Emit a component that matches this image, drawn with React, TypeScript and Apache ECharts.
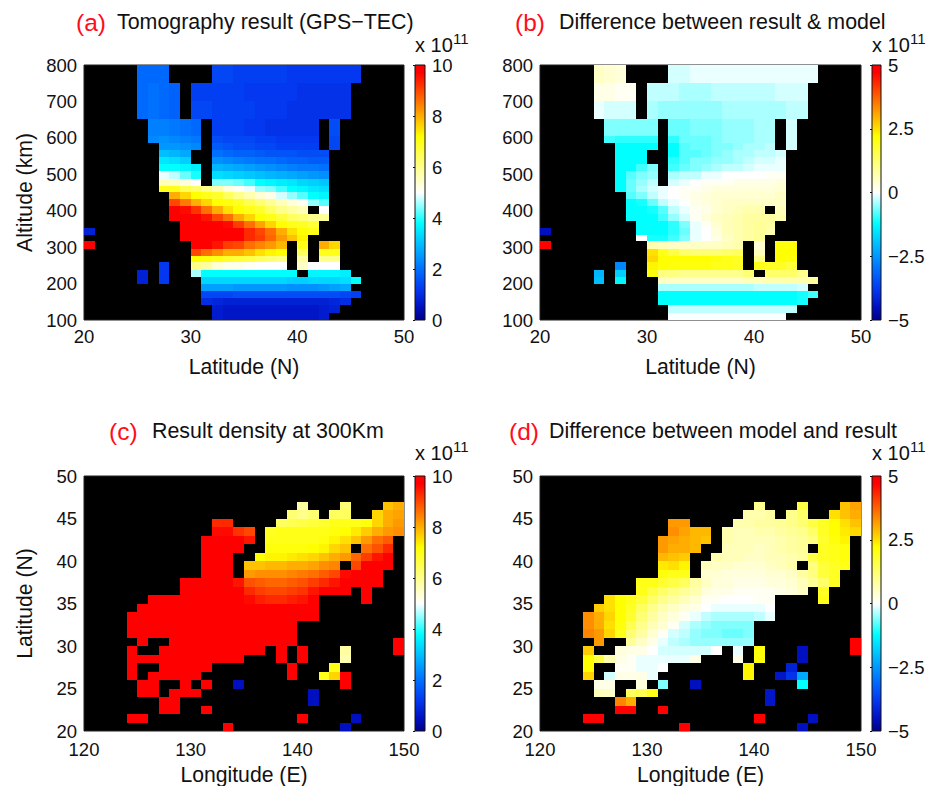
import React, { useEffect, useRef } from "react";
import * as echarts from "echarts";

type Row = number[][];

// Edges of altitude rows in km (top row first); the grid is coarser at high altitude
const altEdges = [800, 750, 702, 653, 605, 587, 567, 547, 527, 509, 488, 469, 451, 431, 412, 392, 373, 353, 334, 316, 296, 276, 258, 238, 219, 199, 180, 161, 140, 120, 100];

// Each row: segments of [first column, value, value, ...], column 0 = first degree of the x axis
const tomography: Row[] = [
  [[5, 1.9, 1.9, 1.9], [12, 1.4, 1.4, 1.3, 1.3, 1.3, 1.3, 1.3, 1.2, 1.2, 1.2, 1.2, 1.2, 1.2, 1.2]],
  [[5, 1.9, 2, 1.9, 1.8], [10, 1.3, 1.3, 1.3, 1.3, 1.3, 1.2, 1.2, 1.2, 1.2, 1.2, 1.1, 1.1, 1.1, 1.1, 1.1]],
  [[5, 1.9, 2, 1.9, 1.8], [10, 1.4, 1.4, 1.3, 1.3, 1.3, 1.3, 1.2, 1.2, 1.2, 1.1, 1.1, 1.1, 1.1, 1.1, 1.1]],
  [[6, 2.2, 2.2, 2.1, 2, 1.9], [12, 1.3, 1.3, 1.3, 1.2, 1.2, 1.1, 1.1, 1.1, 1.1, 1.1], [23, 1.5]],
  [[6, 2.3, 2.4, 2.3, 2.2, 2.1], [12, 1.5, 1.4, 1.4, 1.4, 1.3, 1.3, 1.2, 1.2, 1.2, 1.2], [23, 1.4]],
  [[7, 2.5, 2.5, 2.4, 2.3], [12, 1.7, 1.6, 1.5, 1.5, 1.4, 1.4, 1.3, 1.3, 1.3, 1.3], [23, 1.4]],
  [[7, 3, 2.9, 2.7], [12, 2, 1.9, 1.8, 1.8, 1.7, 1.6, 1.6, 1.6, 1.5, 1.5, 1.5]],
  [[7, 3.5, 3.4, 3.2], [12, 2.4, 2.3, 2.2, 2.1, 2, 2, 1.9, 1.8, 1.8, 1.7, 1.7]],
  [[7, 3.8, 3.8, 3.7, 3.6], [12, 2.9, 2.8, 2.7, 2.6, 2.5, 2.4, 2.3, 2.2, 2.1, 2.1, 2]],
  [[7, 4.9, 4.7, 4.3, 3.9], [12, 3.4, 3.3, 3.2, 3.1, 3, 2.9, 2.8, 2.7, 2.6, 2.5, 2.4]],
  [[7, 5.6, 5.5, 5.3, 5], [12, 4.4, 4.4, 4.3, 4.1, 3.8, 3.7, 3.6, 3.5, 3.3, 3.2, 3.1]],
  [[7, 7, 7, 6.5, 6.3, 6, 5.7, 5.3, 5.1, 4.9, 4.5, 4.4, 4.1, 3.8, 3.7, 3.5, 3.4]],
  [[8, 8, 7.6, 7.2, 7, 6.8, 6.4, 6, 5.7, 5.4, 5.2, 4.8, 4.5, 4.2, 3.8, 3.7]],
  [[8, 9, 8.5, 8, 7.6, 7.2, 7.1, 6.9, 6.5, 6.2, 5.9, 5.6, 5.3, 5.1, 4.5, 4.2]],
  [[8, 10, 9.6, 9.2, 8.6, 8, 7.5, 7.2, 7, 6.8, 6.4, 6, 5.8, 5.6], [22, 5]],
  [[8, 10, 10, 9.9, 9.5, 9, 8.6, 8, 7.6, 7.2, 7, 6.7, 6.4, 6.2, 6, 5.9]],
  [[9, 10, 10, 10, 9.8, 9.6, 9.1, 8.6, 8.1, 7.6, 7.2, 7, 6.9, 6.7]],
  [[0, 0.8], [9, 10, 10, 10, 10, 10, 10, 9.3, 9, 8.6, 8, 7.5, 7.2, 7]],
  [[9, 10, 10, 10, 10, 10, 10, 9.3, 9.1, 8.7, 8.2, 7.8, 7.3]],
  [[0, 10], [10, 10, 10, 9.5, 9.1, 9, 8.6, 8.4, 8.2, 7.9], [20, 7], [22, 8, 7.6]],
  [[10, 9, 8.6, 8.3, 8, 8, 7.8, 7.5, 7.3, 7.2], [20, 6.4], [22, 7, 7]],
  [[10, 7.2, 7.1, 7, 6.8, 6.7, 6.6, 6.4, 6.2, 6.1], [20, 5.8], [22, 6, 6]],
  [[7, 1.2], [10, 6, 5.8, 5.4, 5.2, 5.2, 5.1, 5, 5, 5], [20, 5.5], [21, 5, 5, 5]],
  [[5, 0.8], [7, 1.2], [10, 4.6, 3.8, 3.8, 3.8, 3.8, 3.8, 3.8, 3.8, 3.8, 3.8], [21, 3.7, 3.7, 3.7, 3.6]],
  [[5, 0.8], [7, 1.2], [11, 3.3, 3.3, 3.3, 3.3, 3.3, 3.3, 3.3, 3.3, 3.2, 3.2, 3.3, 3.3, 3.3, 3.4, 3.8]],
  [[11, 2.6, 2.6, 2.6, 2.5, 2.5, 2.5, 2.5, 2.5, 2.4, 2.4, 2.4, 2.5, 2.6, 2.7]],
  [[11, 1.4, 1.4, 1.4, 1.5, 1.5, 1.5, 1.5, 1.5, 1.5, 1.5, 1.5, 1.5, 1.5, 1.4, 1.3]],
  [[11, 1, 0.9, 0.8, 0.8, 0.8, 0.8, 0.8, 0.8, 0.8, 0.8, 0.8, 0.8, 0.9, 1]],
  [[12, 0.7, 0.6, 0.6, 0.6, 0.6, 0.6, 0.6, 0.6, 0.6, 0.6, 0.7, 0.8]],
  [[12, 0.7, 0.6, 0.6, 0.6, 0.6, 0.6, 0.6, 0.6, 0.6, 0.6, 0.7]],
];

const altDifference: Row[] = [
  [[5, 0.5, 0.4, 0.3], [12, -0.2, -0.2, -0.1, -0.1, -0.1, -0.1, -0.1, -0.1, -0.1, -0.1, -0.1, -0.1, -0.1, -0.1]],
  [[5, 0.2, 0.2, 0.1, 0.1], [10, -0.3, -0.3, -0.3, -0.4, -0.4, -0.4, -0.3, -0.3, -0.3, -0.3, -0.3, -0.3, -0.2, -0.2, -0.2]],
  [[5, -0.1, -0.2, -0.2, -0.2], [10, -0.4, -0.5, -0.5, -0.5, -0.5, -0.5, -0.5, -0.4, -0.4, -0.4, -0.4, -0.4, -0.4, -0.3, -0.3]],
  [[6, -0.6, -0.6, -0.6, -0.6, -0.6], [12, -0.7, -0.7, -0.6, -0.6, -0.6, -0.5, -0.5, -0.5, -0.4, -0.4], [23, -0.2]],
  [[6, -0.9, -1, -1, -1, -1], [12, -1, -0.7, -0.7, -0.7, -0.6, -0.5, -0.5, -0.5, -0.4, -0.4], [23, -0.2]],
  [[7, -1.2, -1.2, -1.2, -1.2], [12, -1.2, -0.8, -0.7, -0.7, -0.6, -0.6, -0.5, -0.4, -0.4, -0.3], [23, -0.2]],
  [[7, -1.2, -1.2, -1.2], [12, -1.2, -0.8, -0.8, -0.7, -0.6, -0.5, -0.4, -0.4, -0.3, -0.3, -0.2]],
  [[7, -1.2, -1.2, -1.2], [12, -1, -0.8, -0.6, -0.6, -0.5, -0.5, -0.4, -0.3, -0.2, -0.2, -0.1]],
  [[7, -1.2, -1.2, -0.9, -0.6], [12, -0.9, -0.7, -0.6, -0.5, -0.4, -0.3, -0.3, -0.2, -0.1, -0.1, -0.1]],
  [[7, -1.2, -0.8, -0.6, -0.5], [12, -0.4, -0.3, -0.3, -0.1, -0.1, 0, 0, 0, 0, 0.1, 0.1]],
  [[7, -1.2, -0.7, -0.5, -0.3], [12, -0.2, -0.1, 0, 0.1, 0.1, 0.1, 0.2, 0.2, 0.2, 0.2, 0.3]],
  [[7, -1.2, -0.7, -0.4, -0.2, -0.1, 0, 0.1, 0.1, 0.2, 0.3, 0.3, 0.3, 0.3, 0.3, 0.3, 0.4]],
  [[8, -0.8, -0.6, -0.3, -0.1, 0, 0.1, 0.2, 0.3, 0.4, 0.4, 0.4, 0.4, 0.4, 0.4, 0.5]],
  [[8, -1.2, -1.1, -0.7, -0.3, -0.1, 0, 0.2, 0.3, 0.4, 0.5, 0.5, 0.5, 0.5, 0.5, 0.5]],
  [[8, -1.2, -1.2, -1.1, -0.8, -0.3, -0.1, 0.1, 0.2, 0.4, 0.5, 0.6, 0.7, 0.7], [22, 0.6]],
  [[8, -1.2, -1.2, -1.2, -0.9, -0.5, -0.2, 0.1, 0.3, 0.5, 0.6, 0.7, 0.8, 0.8, 0.8, 0.7]],
  [[9, -1.2, -1.2, -1.2, -1, -0.6, -0.1, 0.1, 0.4, 0.6, 0.7, 0.8, 0.9, 0.8]],
  [[0, -4.5], [9, -1.2, -1.2, -1.2, -1, -0.7, -0.1, 0, 0.3, 0.6, 0.7, 0.8, 0.9, 0.7]],
  [[9, 0, -1.1, -1.1, -0.9, -0.6, -0.1, 0, 0.2, 0.5, 0.7, 0.8, 0.9]],
  [[0, 5], [10, 0.7, 0.6, 0.5, 0.5, 0.5, 0.5, 0.5, 0.6, 0.7], [20, 0.4], [22, 2.1, 2.1]],
  [[10, 2.5, 2, 1.6, 1.3, 1.2, 1.2, 1.2, 1.3, 1.4], [20, 0.6], [22, 2.2, 2.2]],
  [[10, 2.6, 2.2, 2.2, 2.2, 2.2, 2.2, 2.1, 2, 1.9], [20, 1], [22, 2.2, 2.1]],
  [[7, -2.7], [10, 2.3, 2.2, 2.1, 2.1, 2.1, 2.1, 2, 2, 1.9], [20, 2], [21, 1.9, 1.9, 1.7]],
  [[5, -2.1], [7, -1.8], [10, 2.1, 1.1, 1.1, 1, 1, 1, 1, 1, 1, 1.2], [21, 1.3, 1.3, 1.3, 1]],
  [[5, -2], [7, -1.3], [11, 0.5, 0.5, 0.5, 0.5, 0.5, 0.5, 0.5, 0.5, 0.6, 0.6, 0.7, 0.7, 0.7, 0.7, 0.8]],
  [[11, -0.4, -0.4, -0.4, -0.4, -0.4, -0.4, -0.4, -0.4, -0.4, -0.3, -0.3, -0.3, -0.3, -0.2]],
  [[11, -1.2, -1.2, -1.2, -1.2, -1.2, -1.2, -1.2, -1.2, -1.2, -1.2, -1.2, -1.2, -1.2, -1.1, -0.9]],
  [[11, -1.2, -1.2, -1.2, -1.2, -1.2, -1.2, -1.2, -1.2, -1.2, -1.2, -1.2, -1.2, -1.2, -1.1]],
  [[12, -0.3, -0.3, -0.3, -0.3, -0.3, -0.3, -0.3, -0.3, -0.3, -0.3, -0.3, -0.3]],
  [[12, -0.03, -0.03, -0.03, -0.03, -0.03, -0.03, -0.03, -0.03, -0.03, -0.03, -0.03]],
];

// Maps: 30 rows of one degree latitude, row 0 = 49-50 N; column 0 = 120-121 E
const density: Row[] = [
  [],
  [],
  [],
  [[20, 5.8], [24, 6.2], [28, 7.8, 8]],
  [[19, 6.2, 6, 6.2], [23, 6.4, 6.4], [27, 7.6, 8, 8.1]],
  [[12, 9.3, 9.3], [18, 6.4, 6.5, 6.6, 6.7, 6.8, 7, 7, 7, 7.1, 7.6, 8, 8.2]],
  [[12, 9.6, 9.6, 9.2, 9], [17, 6.9, 7, 7, 7, 7, 7, 7.1, 7.2, 7.4, 7.7, 8, 8.2, 8.3]],
  [[11, 10, 10, 10, 9.8, 9.5], [17, 7, 7, 7, 7, 7, 7.1, 7.3, 7.5, 7.8, 8.2, 8.6, 8.8]],
  [[11, 10, 10, 10, 10], [17, 7.1, 7.1, 7.1, 7.1, 7.2, 7.3, 7.6, 7.8], [26, 8.6, 8.9, 9.3]],
  [[11, 10, 10, 10], [16, 7.2, 7.3, 7.3, 7.4, 7.5, 7.6, 7.8, 8, 8.2, 8.7, 9.1, 9.5, 9.8]],
  [[11, 10, 10, 10], [15, 7.8, 7.8, 7.9, 7.9, 8, 8, 8.1, 8.3, 8.4], [25, 9, 9.7, 10, 10]],
  [[11, 10, 10, 10], [15, 8.2, 8.3, 8.3, 8.3, 8.4, 8.5, 8.6, 8.8, 9, 9.6, 10, 10, 10]],
  [[9, 10, 10, 10, 10, 10, 9.5, 8.9, 8.8, 8.7, 8.7, 8.8, 8.9, 9.1, 9.3, 9.5, 10, 10, 10, 10]],
  [[9, 10, 10, 10, 10, 10, 9.7, 9.3, 9.1, 9, 9, 9.1, 9.2, 9.5, 10, 10, 10], [26, 10]],
  [[6, 10, 10, 10, 10, 10, 10, 10, 10, 9.9, 9.6, 9.4, 9.3, 9.3, 9.4, 9.5, 9.8], [26, 10]],
  [[5, 10, 10, 10, 10, 10, 10, 10, 10, 10, 10, 9.9, 9.8, 9.8, 9.8, 9.8, 9.8, 9.9]],
  [[4, 10, 10, 10, 10, 10, 10, 10, 10, 10, 10, 10, 10, 10, 10, 10, 10, 10, 10]],
  [[4, 10, 10, 10, 10, 10, 10, 10, 10, 10, 10, 10, 10, 10, 10, 10, 10]],
  [[4, 10, 10, 10, 10, 10, 10, 10, 10, 10, 10, 10, 10, 10, 10, 10, 10]],
  [[5, 10], [8, 10, 10, 10, 10, 10, 10, 10, 10, 10, 10, 10, 10], [29, 10]],
  [[4, 10], [7, 10, 10, 10, 10, 10, 10, 10, 10, 10, 10], [18, 10], [20, 10], [24, 5.8], [29, 10]],
  [[4, 10, 10, 10, 10, 10, 10, 10, 10, 10, 10, 10], [18, 10], [20, 10], [24, 5.7]],
  [[4, 10], [7, 10, 10, 10, 10, 10], [19, 10], [23, 7]],
  [[4, 10], [6, 10, 10, 10, 10, 10], [19, 10], [22, 7, 7.6], [24, 10]],
  [[5, 10, 10], [9, 10], [11, 10], [14, 0.5], [24, 10]],
  [[5, 10, 10], [8, 10, 10, 10], [21, 0.5]],
  [[7, 10, 10], [21, 0.5]],
  [[7, 10, 10], [11, 10]],
  [[4, 10, 10], [20, 10], [25, 0.5]],
  [[13, 10], [24, 0.5]],
];

const mapDifference: Row[] = [
  [],
  [],
  [],
  [[20, 1], [24, 1.6], [28, 2.8, 3.1]],
  [[19, 0.7, 0.7, 0.8], [23, 1, 1.3], [27, 2.5, 2.8, 3]],
  [[12, 3.2, 3.2], [18, 0.7, 0.7, 0.8, 0.8, 0.9, 1, 1.2, 1.6, 1.9, 2.2, 2.5, 2.8]],
  [[12, 3.3, 3.1, 2.9, 2.9], [17, 0.7, 0.6, 0.6, 0.7, 0.7, 0.8, 0.9, 1, 1.3, 1.9, 2.2, 2.4, 2.6]],
  [[11, 3.2, 3.1, 3, 2.9, 2.8], [17, 0.7, 0.6, 0.6, 0.6, 0.6, 0.7, 0.8, 0.9, 1.1, 1.8, 2.1, 2.3]],
  [[11, 3.2, 3, 3, 2.9], [17, 0.6, 0.6, 0.6, 0.5, 0.6, 0.7, 0.8, 0.9], [26, 1.9, 2, 2.1]],
  [[11, 2.9, 2.8, 2.7], [16, 0.7, 0.6, 0.6, 0.5, 0.5, 0.6, 0.6, 0.7, 0.8, 1.6, 1.9, 2, 2.1]],
  [[11, 2.4, 2.5, 2.3], [15, 0.6, 0.5, 0.5, 0.4, 0.4, 0.4, 0.5, 0.6, 0.7], [25, 1.1, 1.7, 1.9, 2]],
  [[11, 2.1, 2, 2], [15, 0.4, 0.4, 0.3, 0.3, 0.3, 0.3, 0.4, 0.4, 0.5, 0.8, 1.1, 1.7, 1.9]],
  [[9, 2, 2, 1.8, 1.6, 1.4, 0.8, 0.5, 0.3, 0.3, 0.2, 0.2, 0.2, 0.3, 0.3, 0.4, 0.6, 0.9, 1.3, 1.9]],
  [[9, 2, 1.6, 1.3, 1.1, 0.9, 0.7, 0.3, 0.2, 0.2, 0.1, 0.1, 0.1, 0.1, 0.2, 0.3, 0.5], [26, 1.9]],
  [[6, 2.5, 2.2, 2, 1.7, 1.3, 1, 0.8, 0.6, 0.4, 0.1, 0.1, 0, 0, 0, 0.1, 0.1], [26, 2]],
  [[5, 2.7, 2.5, 2.2, 1.9, 1.4, 1, 0.7, 0.5, 0.3, 0.2, 0, -0.1, -0.1, -0.1, -0.1, -0.1, 0]],
  [[4, 3.3, 3, 2.6, 2.2, 1.8, 1.2, 0.8, 0.5, 0.3, 0.1, -0.1, -0.3, -0.4, -0.4, -0.4, -0.4, -0.3, -0.1]],
  [[4, 3.3, 3, 2.5, 2.1, 1.5, 1, 0.6, 0.4, 0.1, -0.2, -0.4, -0.5, -0.6, -0.6, -0.6, -0.6]],
  [[4, 3.4, 3.2, 2.6, 2, 1.2, 0.8, 0.4, 0.1, -0.2, -0.3, -0.5, -0.6, -0.6, -0.7, -0.7, -0.6]],
  [[5, 3.2], [8, 0.9, 0.5, 0.2, -0.1, -0.3, -0.4, -0.5, -0.5, -0.5, -0.5, -0.5, -0.5], [29, 5]],
  [[4, 2.7], [7, 0.3, 0.2, 0.2, 0, -0.2, -0.2, -0.2, -0.2, -0.2, 0], [18, -0.1], [20, 2.1], [24, -4.5], [29, 5]],
  [[4, 2.2, 1.6, 0.7, 0.2, 0.1, -0.1, -0.1, -0.1, -0.1, -0.1, 0.2], [18, 0.2], [20, 2.1], [24, -4.5]],
  [[4, 2.2], [7, 0.1, 0.1, -0.1, -0.1, 0], [19, 2.3], [23, -4.2]],
  [[4, 2.6], [6, -0.2, 0.2, 0.2, 0.2, -0.1], [19, 2.3], [22, -4.4, -3.9, -2.3]],
  [[5, 0.2, 0.2], [9, 0.3], [11, -0.6], [14, -4.5], [24, -1.2]],
  [[5, 0.6, 0.5], [8, 1.4, 1.5, 2], [21, -4.4]],
  [[7, 3.4, 3], [21, -4.4]],
  [[7, 5, 5], [11, 5]],
  [[4, 5, 5], [20, 5], [25, -4.5]],
  [[13, 5], [24, -4.5]],
];

const colorStops = [
  { offset: 0, color: "#00008a" },
  { offset: 0.05, color: "#0010c0" },
  { offset: 0.12, color: "#0338f0" },
  { offset: 0.2, color: "#0070ff" },
  { offset: 0.38, color: "#00ffff" },
  { offset: 0.5, color: "#ffffff" },
  { offset: 0.72, color: "#ffff00" },
  { offset: 0.97, color: "#ff0000" },
  { offset: 1, color: "#ff0000" },
];

const FONT = "Liberation Sans";
const TICK_SIZE = 18.5;
const NAME_SIZE = 21.2;

function colorOf(t: number): string {
  const c = Math.max(0, Math.min(1, t));
  for (let i = 1; i < colorStops.length; i++) {
    if (c <= colorStops[i].offset) {
      const a = colorStops[i - 1];
      const b = colorStops[i];
      return echarts.color.lerp((c - a.offset) / (b.offset - a.offset), [a.color, b.color]) as string;
    }
  }
  return "#ff0000";
}

// data item: [x0, x1, y0, y1, value]
function cellsFrom(rows: Row[], x0: number, yEdges: number[]) {
  const out: number[][] = [];
  rows.forEach((segs, r) => {
    segs.forEach((seg) => {
      seg.slice(1).forEach((v, k) => {
        const col = seg[0] + k;
        out.push([x0 + col, x0 + col + 1, yEdges[r + 1], yEdges[r], v]);
      });
    });
  });
  return out;
}

const latEdges = [50, 49, 48, 47, 46, 45, 44, 43, 42, 41, 40, 39, 38, 37, 36, 35, 34, 33, 32, 31, 30, 29, 28, 27, 26, 25, 24, 23, 22, 21, 20];

const minusFmt = (v: number) => String(v).replace("-", "\u2212");

interface Panel {
  rows: Row[]; x0: number; yEdges: number[];
  left: number; top: number; w: number; h: number;
  xMin: number; xMax: number; xStep: number;
  yMin: number; yMax: number; yStep: number;
  xName: string; xGap: number; xMargin: number; yName?: string;
  vMin: number; vMax: number; vStep: number;
  barLeft: number; barW: number;
}

const panels: Panel[] = [
  { rows: tomography, x0: 20, yEdges: altEdges, left: 84, top: 65, w: 320, h: 255, xMin: 20, xMax: 50, xStep: 10, yMin: 100, yMax: 800, yStep: 100, xName: "Latitude (N)", xGap: 36, xMargin: 7, yName: "Altitude (km)", vMin: 0, vMax: 10, vStep: 2, barLeft: 415, barW: 10 },
  { rows: altDifference, x0: 20, yEdges: altEdges, left: 540, top: 65, w: 321, h: 255, xMin: 20, xMax: 50, xStep: 10, yMin: 100, yMax: 800, yStep: 100, xName: "Latitude (N)", xGap: 36, xMargin: 7, vMin: -5, vMax: 5, vStep: 2.5, barLeft: 872, barW: 9 },
  { rows: density, x0: 120, yEdges: latEdges, left: 84, top: 476, w: 320, h: 255, xMin: 120, xMax: 150, xStep: 10, yMin: 20, yMax: 50, yStep: 5, xName: "Longitude (E)", xGap: 33, xMargin: 9, yName: "Latitude (N)", vMin: 0, vMax: 10, vStep: 2, barLeft: 415, barW: 10 },
  { rows: mapDifference, x0: 120, yEdges: latEdges, left: 540, top: 476, w: 321, h: 255, xMin: 120, xMax: 150, xStep: 10, yMin: 20, yMax: 50, yStep: 5, xName: "Longitude (E)", xGap: 33, xMargin: 9, vMin: -5, vMax: 5, vStep: 2.5, barLeft: 872, barW: 9 },
];

const titles = [
  { tag: "(a)", tagX: 76, text: "Tomography result (GPS\u2212TEC)", textX: 117, y: 22 },
  { tag: "(b)", tagX: 515, text: "Difference between result & model", textX: 559, y: 22 },
  { tag: "(c)", tagX: 109, text: "Result density at 300Km", textX: 152, y: 431 },
  { tag: "(d)", tagX: 509, text: "Difference between model and result", textX: 549, y: 431 },
];

const exponents = [
  { x: 415, y: 45 },
  { x: 872, y: 45 },
  { x: 415, y: 453 },
  { x: 872, y: 453 },
];

function buildOption() {
  const grid: any[] = [];
  const xAxis: any[] = [];
  const yAxis: any[] = [];
  const series: any[] = [];
  panels.forEach((p) => {
    const gi = grid.length;
    grid.push({ left: p.left, top: p.top, width: p.w, height: p.h, show: true, backgroundColor: "#000", borderColor: "#222", borderWidth: 1 });
    xAxis.push({
      gridIndex: gi, type: "value", min: p.xMin, max: p.xMax, interval: p.xStep,
      name: p.xName, nameLocation: "middle", nameGap: p.xGap,
      nameTextStyle: { fontFamily: FONT, fontSize: NAME_SIZE, color: "#111" },
      axisLabel: { fontFamily: FONT, fontSize: TICK_SIZE, color: "#111", margin: p.xMargin },
      axisLine: { show: false }, axisTick: { show: false }, splitLine: { show: false },
    });
    yAxis.push({
      gridIndex: gi, type: "value", min: p.yMin, max: p.yMax, interval: p.yStep,
      name: p.yName ?? "", nameLocation: "middle", nameGap: 49,
      nameTextStyle: { fontFamily: FONT, fontSize: NAME_SIZE, color: "#111" },
      axisLabel: { fontFamily: FONT, fontSize: TICK_SIZE, color: "#111", margin: 7 },
      axisLine: { show: false }, axisTick: { show: false }, splitLine: { show: false },
    });
    series.push({
      type: "custom", coordinateSystem: "cartesian2d", xAxisIndex: gi, yAxisIndex: gi,
      data: cellsFrom(p.rows, p.x0, p.yEdges),
      encode: { x: [0, 1], y: [2, 3] },
      silent: true,
      renderItem: (_: any, api: any) => {
        const a = api.coord([api.value(0), api.value(3)]);
        const b = api.coord([api.value(1), api.value(2)]);
        const fill = colorOf((api.value(4) - p.vMin) / (p.vMax - p.vMin));
        const x0 = Math.round(a[0]);
        const y0 = Math.round(a[1]);
        return {
          type: "rect",
          shape: { x: x0, y: y0, width: Math.round(b[0]) - x0, height: Math.round(b[1]) - y0 },
          style: { fill },
        };
      },
    });
  });
  panels.forEach((p) => {
    const gi = grid.length;
    grid.push({
      left: p.barLeft, top: p.top, width: p.barW, height: p.h, show: true,
      backgroundColor: new echarts.graphic.LinearGradient(0, 1, 0, 0, colorStops),
      borderColor: "#111", borderWidth: 1,
    });
    xAxis.push({ gridIndex: gi, type: "value", min: 0, max: 1, show: false });
    yAxis.push({
      gridIndex: gi, type: "value", position: "right", min: p.vMin, max: p.vMax, interval: p.vStep,
      axisLabel: { fontFamily: FONT, fontSize: TICK_SIZE, color: "#111", margin: 7, formatter: minusFmt },
      axisLine: { show: false }, axisTick: { show: true, inside: true, length: 2, lineStyle: { color: "#111" } }, splitLine: { show: false },
    });
    series.push({ type: "custom", coordinateSystem: "cartesian2d", xAxisIndex: gi, yAxisIndex: gi, data: [], renderItem: () => null });
  });
  const graphic: any[] = [];
  titles.forEach((t) => {
    graphic.push({ type: "text", x: t.tagX, y: t.y, style: { text: t.tag, fontFamily: FONT, fontSize: 24.5, fill: "#ff0d1a", verticalAlign: "middle" } });
    graphic.push({ type: "text", x: t.textX, y: t.y, style: { text: t.text, fontFamily: FONT, fontSize: 21.4, fill: "#111", verticalAlign: "middle" } });
  });
  exponents.forEach((e) => {
    graphic.push({ type: "text", x: e.x, y: e.y, style: { text: "x 10", fontFamily: FONT, fontSize: 20, fill: "#111", verticalAlign: "middle" } });
    graphic.push({ type: "text", x: e.x + 38, y: e.y - 7, style: { text: "11", fontFamily: FONT, fontSize: 15, fill: "#111", verticalAlign: "middle" } });
  });
  return { animation: false, backgroundColor: "#fff", grid, xAxis, yAxis, series, graphic };
}

export default function App() {
  const ref = useRef<HTMLDivElement>(null);
  useEffect(() => {
    const chart = echarts.init(ref.current!, null, { renderer: "svg" });
    chart.setOption(buildOption() as any);
    return () => chart.dispose();
  }, []);
  return <div ref={ref} style={{ position: "absolute", left: 0, top: 0, width: 940, height: 786 }} />;
}
